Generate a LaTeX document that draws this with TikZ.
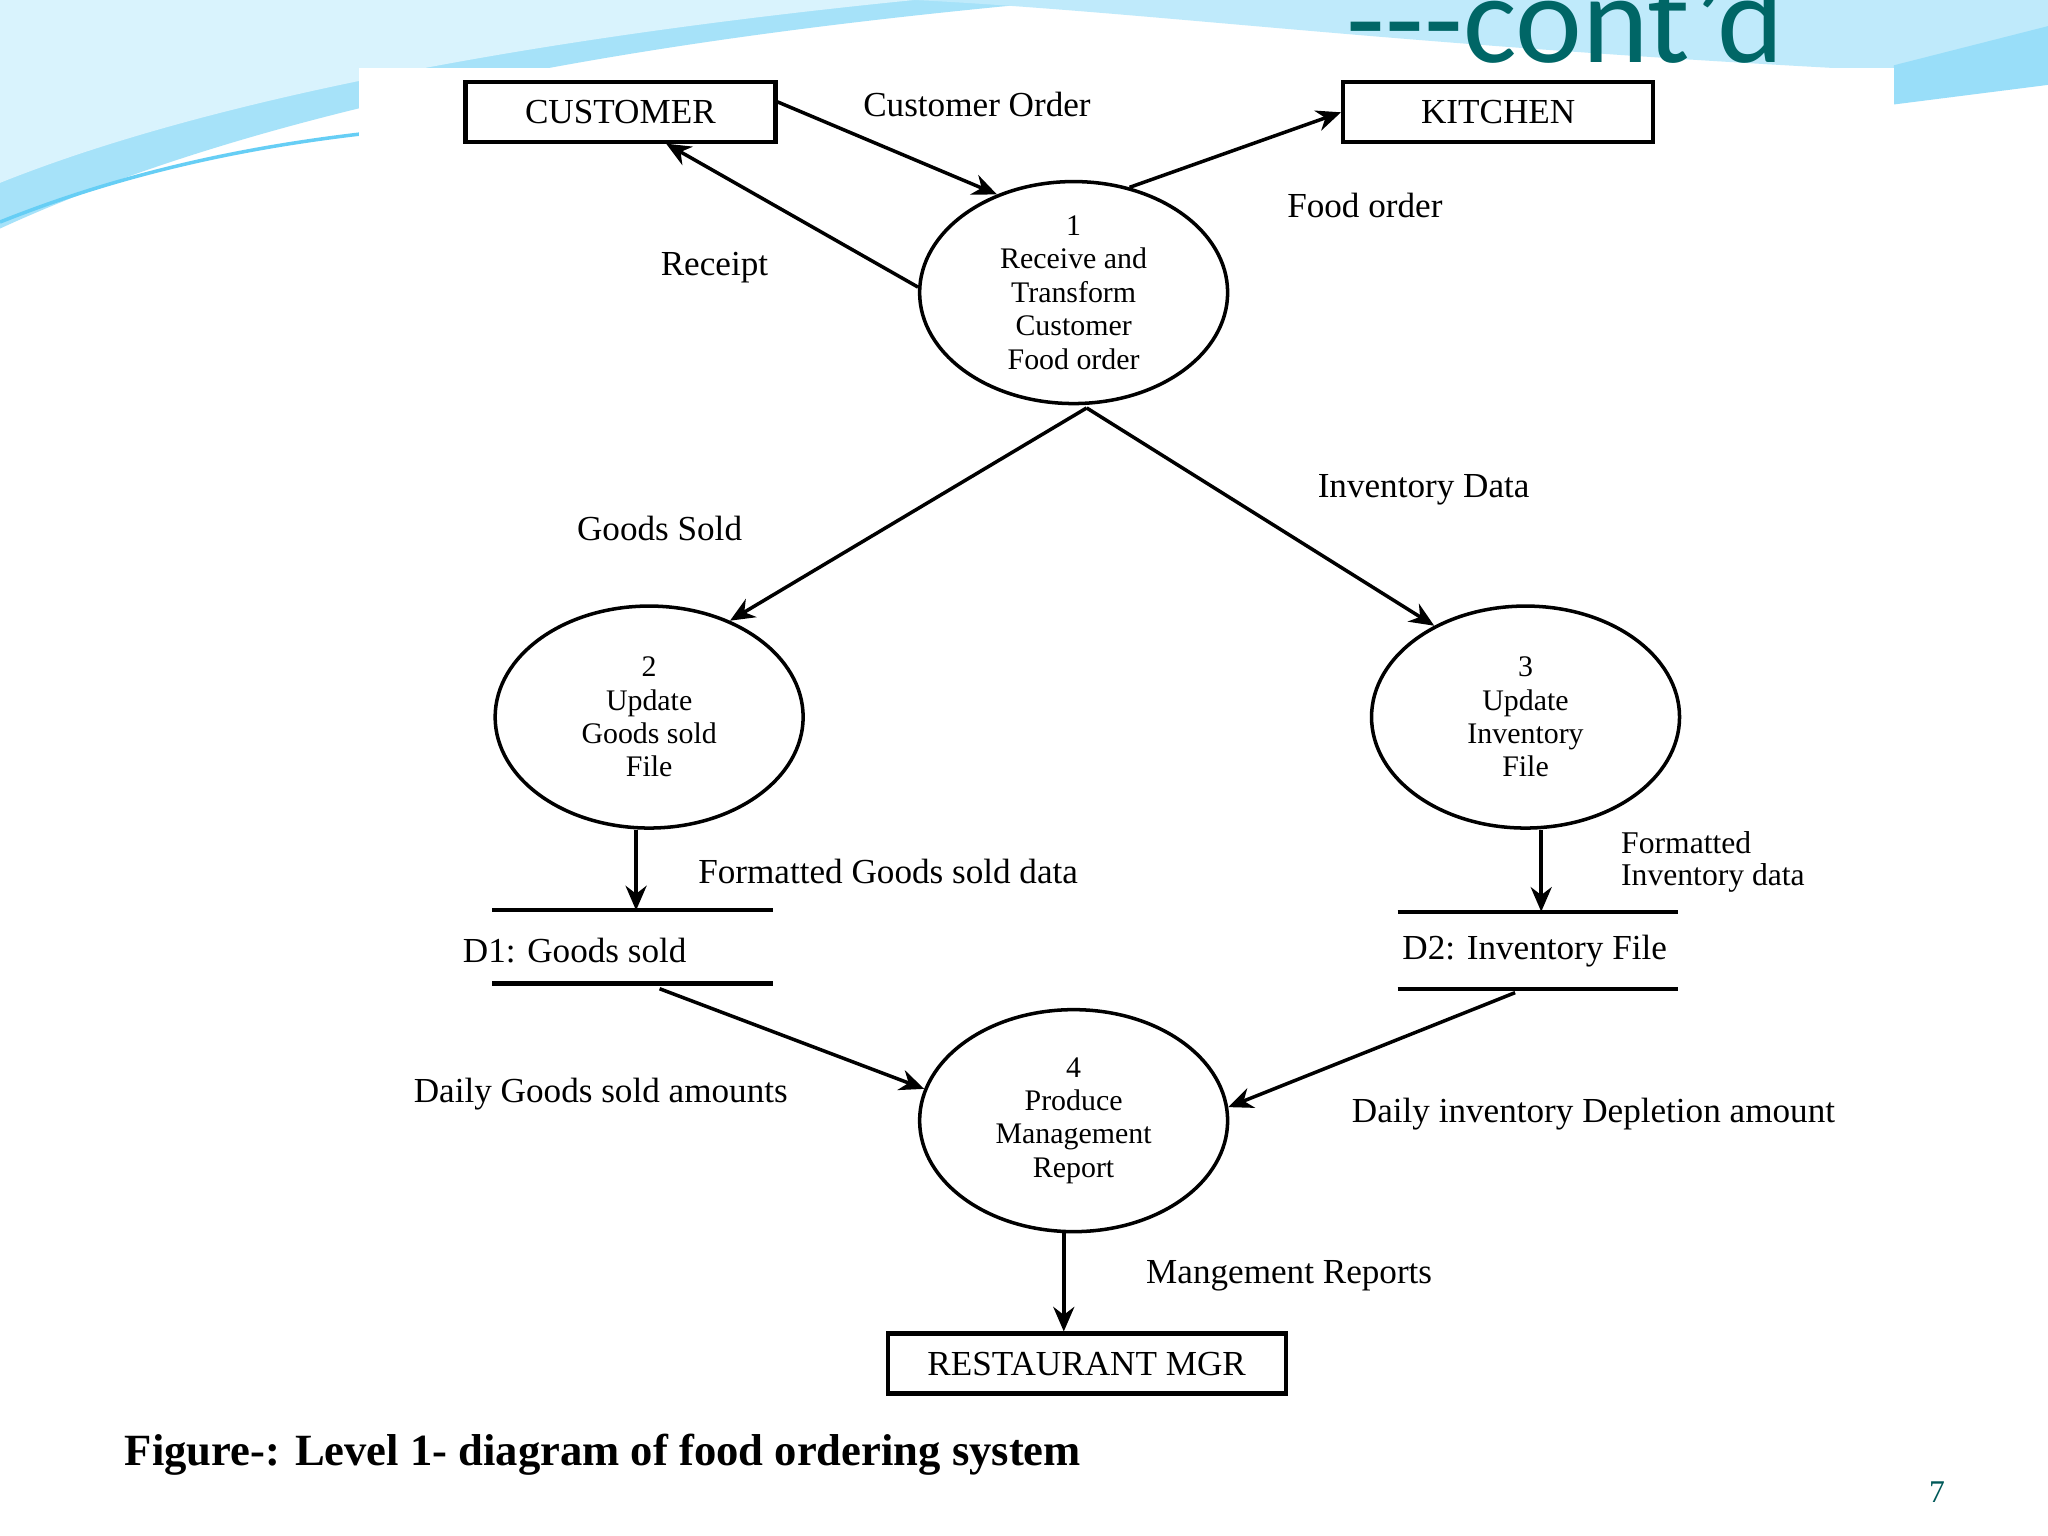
\documentclass[tikz,border=0pt]{standalone}
\usepackage{fontspec}
\setmainfont{Liberation Serif}
\newfontfamily\slidesans{Carlito}
\usetikzlibrary{shapes.geometric,arrows.meta}
\begin{document}
\begin{tikzpicture}[x=0.01306cm,y=-0.01306cm,
  box/.style={draw,line width=1.2pt,minimum width=3.1cm,minimum height=0.6cm,inner sep=0pt,font=\fontsize{10}{11}\selectfont},
  proc/.style={draw,ellipse,line width=1pt,minimum width=3.08cm,minimum height=2.22cm,align=center,inner sep=0pt,font=\fontsize{8.5}{9.5}\selectfont},
  lbl/.style={font=\fontsize{10}{11}\selectfont,inner sep=1pt},
  flow/.style={line width=1pt,-{Stealth[length=7pt,width=6pt]}}]
\useasboundingbox (0,0) rectangle (1568,1176);
\fill[white] (0,0) rectangle (1568,1176);
% slide decoration
\fill[cyan!35] (0,0) -- (820,0) .. controls (600,20) and (250,60) .. (0,175) -- cycle;
\fill[cyan!15] (0,0) -- (0,140) .. controls (200,60) and (500,20) .. (700,0) -- cycle;
\fill[cyan!25] (700,0) .. controls (900,10) and (1100,40) .. (1568,60) -- (1568,0) -- cycle;
\fill[cyan!40] (1450,50) -- (1568,20) -- (1568,65) -- (1450,80) -- cycle;
\draw[cyan!60,line width=1pt] (0,170) .. controls (100,130) and (200,110) .. (300,100);
\node[anchor=base east,text=teal!80!black,font=\slidesans\fontsize{36}{36}\selectfont,inner sep=0pt] (title) at (1366,48) {---cont’d};
\fill[white] (275,52) rectangle (1450,1072);
% nodes
\node[box] (cust) at (475,86) {CUSTOMER};
\node[box] (kit) at (1147,86) {KITCHEN};
\node[proc] (p1) at (822,224) {1\\Receive and\\Transform\\Customer\\Food order};
\node[proc] (p2) at (497,549) {2\\Update\\Goods sold\\File};
\node[proc] (p3) at (1168,549) {3\\Update\\Inventory\\File};
\node[proc] (p4) at (822,858) {4\\Produce\\Management\\Report};
\node[box,minimum width=3.98cm] (mgr) at (832,1044) {RESTAURANT MGR};
% data stores
\coordinate (d1t) at (487,697); \coordinate (d2t) at (1180,698);
\draw[line width=1.2pt] (377,697) -- (592,697) (377,753) -- (592,753);
\draw[line width=1.2pt] (1070,698) -- (1285,698) (1070,757) -- (1285,757);
\node[lbl] (d1) at (440,728) {D1: Goods sold};
\node[lbl] (d2) at (1175,728) {D2: Inventory File};
\coordinate (d1b) at (505,757); \coordinate (d2b) at (1160,760);
% flows
\draw[flow] (cust.east) ++(0,-8) -- (p1.128);
\draw[flow] (p1.178) -- (510,110);
\draw[flow] (p1.62) -- (kit.west);
\draw[flow] (p1.south) ++(10,2) coordinate(pb) -- (p2.50);
\draw[flow] (pb) -- (p3.135);
\draw[flow] (p2.south) ++(-10,0) -- (d1t);
\draw[flow] (p3.south) ++(12,0) -- (d2t);
\draw[flow] (d1b) -- (p4.168);
\draw[flow] (d2b) -- (p4.5);
\draw[flow] (p4.265) -- (mgr.north -| p4.265);
% labels
\node[lbl] at (748,80) {Customer Order};
\node[lbl] at (547,205) {Receipt};
\node[lbl] at (1045,157) {Food order};
\node[lbl] at (505,405) {Goods Sold};
\node[lbl] at (1090,375) {Inventory Data};
\node[lbl] at (680,667) {Formatted Goods sold data};
\node[lbl,anchor=west,align=left,font=\fontsize{9}{9}\selectfont] at (1238,660) {Formatted\\Inventory data};
\node[lbl] at (460,838) {Daily Goods sold amounts};
\node[lbl] at (1220,853) {Daily inventory Depletion amount};
\node[lbl] at (987,977) {Mangement Reports};
% caption
\node[anchor=base west,font=\bfseries\fontsize{12.7}{13}\selectfont,inner sep=0pt] (cap) at (95,1122) {Figure-: Level 1- diagram of food ordering system};
\node[anchor=base,text=teal!70!black,font=\fontsize{9}{10}\selectfont,inner sep=0pt] (pg) at (1483,1150) {7};
\end{tikzpicture}
\end{document}
